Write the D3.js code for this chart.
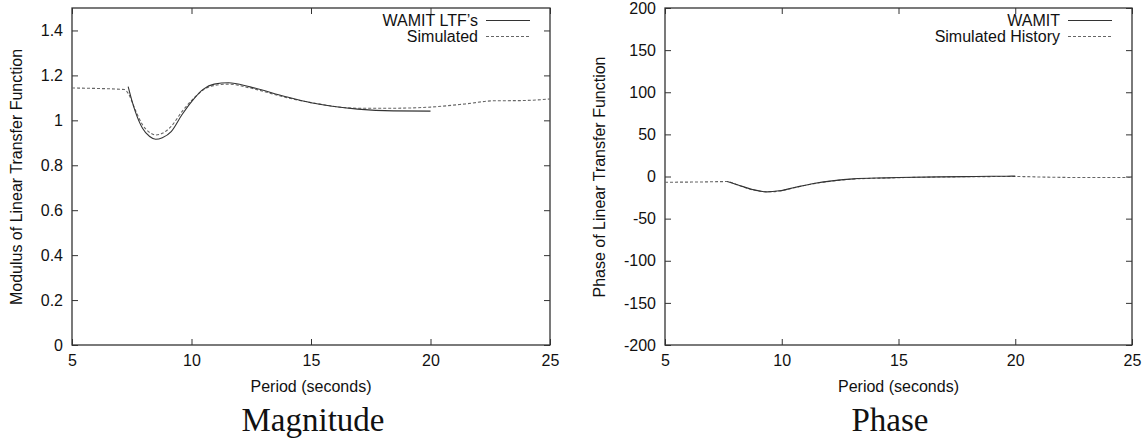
<!DOCTYPE html>
<html><head><meta charset="utf-8">
<script src="https://cdn.jsdelivr.net/npm/d3@7"></script>
<style>
body{margin:0;background:#fff;}
svg{display:block;}
text{font-family:"Liberation Sans",Arial,sans-serif;fill:#111;}
.title{font-family:"Liberation Serif","DejaVu Serif",serif;}
</style></head>
<body>
<svg id="c" width="1145" height="442"></svg>
<script>
// ---- Data ----
const periodTicks = [5, 10, 15, 20, 25];
const magTicks = [0, 0.2, 0.4, 0.6, 0.8, 1, 1.2, 1.4];
const phaseTicks = [-200, -150, -100, -50, 0, 50, 100, 150, 200];

// Magnitude: WAMIT LTF's (solid)
const magWamitT = [7.35, 7.5, 7.65, 7.95, 8.25, 8.5, 8.78, 9.15, 9.6, 10.03, 10.5, 10.95, 11.55, 12.45, 13.95, 15, 16.95, 18.45, 20];
const magWamitV = [1.15, 1.09, 1.039, 0.965, 0.928, 0.916, 0.923, 0.95, 1.025, 1.087, 1.139, 1.161, 1.167, 1.149, 1.105, 1.078, 1.05, 1.042, 1.041];
// Magnitude: Simulated (dashed)
const magSimT = [5, 6, 7.2, 7.35, 7.65, 7.95, 8.25, 8.5, 8.78, 9.15, 9.6, 10.03, 10.5, 10.95, 11.55, 12.45, 13.95, 15, 16.95, 18.45, 20, 21.45, 22.65, 23.85, 25];
const magSimV = [1.144, 1.142, 1.137, 1.12, 1.046, 0.98, 0.946, 0.935, 0.942, 0.973, 1.039, 1.091, 1.136, 1.155, 1.161, 1.144, 1.102, 1.079, 1.054, 1.054, 1.059, 1.073, 1.087, 1.088, 1.095];

// Phase: WAMIT (solid)
const phWamitT = [7.67, 8.13, 8.75, 9.37, 9.9, 10.6, 11.37, 12.15, 13.07, 14.46, 15, 16.75, 18.3, 19.85, 20];
const phWamitV = [-6, -10, -15.5, -18.3, -17, -12.7, -8.3, -5.2, -2.8, -1.6, -1.2, -0.4, 0, 0.4, 0.4];
// Phase: Simulated History (dashed)
const phSimT = [5, 6.5, 7.67, 8.13, 8.75, 9.37, 9.9, 10.6, 11.37, 12.15, 13.07, 14.46, 15, 16.75, 18.3, 20, 21.4, 22.9, 25];
const phSimV = [-6.8, -6.5, -6, -10.2, -15.8, -18.2, -17.2, -12.9, -8.5, -5.4, -3, -1.8, -1.4, -0.6, -0.2, 0, -0.8, -1.2, -1.2];

const svg = d3.select("#c");
const FS = "16px";
const hyph = d => String(d).replace("\u2212", "-");

function panel(cfg) {
  const g = svg.append("g");
  const x = d3.scaleLinear().domain([5, 25]).range([cfg.x0, cfg.x1]);
  const y = d3.scaleLinear().domain(cfg.ydom).range([345, 8]);
  const tl = 6;
  g.append("g").attr("transform", "translate(0,345)")
    .call(d3.axisBottom(x).tickValues(periodTicks).tickSize(-tl).tickPadding(10).tickFormat(d => String(d)))
    .call(a => a.select(".domain").remove());
  g.append("g").attr("transform", "translate(0,8)")
    .call(d3.axisTop(x).tickValues(periodTicks).tickSize(-tl).tickFormat(""))
    .call(a => a.select(".domain").remove());
  g.append("g").attr("transform", `translate(${cfg.x0},0)`)
    .call(d3.axisLeft(y).tickValues(cfg.yticks).tickSize(-tl).tickPadding(9).tickFormat(d => hyph(String(+d.toFixed(1)))))
    .call(a => a.select(".domain").remove());
  g.append("g").attr("transform", `translate(${cfg.x1},0)`)
    .call(d3.axisRight(y).tickValues(cfg.yticks).tickSize(-tl).tickFormat(""))
    .call(a => a.select(".domain").remove());
  g.selectAll(".tick line").attr("stroke", "#333");
  g.selectAll(".tick text").style("font-size", FS).attr("fill", "#111")
    .style("font-family", '"Liberation Sans",Arial,sans-serif');
  g.append("rect").attr("x", cfg.x0).attr("y", 8).attr("width", cfg.x1 - cfg.x0).attr("height", 337)
    .attr("fill", "none").attr("stroke", "#333").attr("stroke-width", 1.3);

  const line = d3.line().x(d => x(d[0])).y(d => y(d[1])).curve(d3.curveMonotoneX);
  g.append("path").datum(d3.zip(cfg.simT, cfg.simV)).attr("d", line)
    .attr("fill", "none").attr("stroke", "#666").attr("stroke-width", 1.1).attr("stroke-dasharray", "3,2");
  g.append("path").datum(d3.zip(cfg.wT, cfg.wV)).attr("d", line)
    .attr("fill", "none").attr("stroke", "#333").attr("stroke-width", 1.1);

  // legend
  const lx = cfg.x1 - 20;
  g.append("text").attr("x", lx - 52).attr("y", 26).attr("text-anchor", "end").style("font-size", FS).text(cfg.l1);
  g.append("line").attr("x1", lx - 44).attr("x2", lx).attr("y1", 20.5).attr("y2", 20.5).attr("stroke", "#333").attr("stroke-width", 1.1);
  g.append("text").attr("x", lx - 52).attr("y", 42).attr("text-anchor", "end").style("font-size", FS).text(cfg.l2);
  g.append("line").attr("x1", lx - 44).attr("x2", lx).attr("y1", 36.5).attr("y2", 36.5).attr("stroke", "#666").attr("stroke-width", 1.1).attr("stroke-dasharray", "3,2");

  // axis labels
  const cx = (cfg.x0 + cfg.x1) / 2;
  g.append("text").attr("x", cx).attr("y", 392).attr("text-anchor", "middle").style("font-size", FS).text("Period (seconds)");
  g.append("text").attr("transform", `translate(${cfg.yl},177) rotate(-90)`).attr("text-anchor", "middle")
    .style("font-size", FS).text(cfg.ylabel);
  g.append("text").attr("class", "title").attr("x", cfg.tx).attr("y", 431).attr("text-anchor", "middle")
    .style("font-size", "33px").text(cfg.title);
}

panel({x0: 72, x1: 550, ydom: [0, 1.5], yticks: magTicks,
  simT: magSimT, simV: magSimV, wT: magWamitT, wV: magWamitV,
  l1: "WAMIT LTF\u2019s", l2: "Simulated", ylabel: "Modulus of Linear Transfer Function", yl: 22, title: "Magnitude", tx: 313});
panel({x0: 665, x1: 1132, ydom: [-200, 200], yticks: phaseTicks,
  simT: phSimT, simV: phSimV, wT: phWamitT, wV: phWamitV,
  l1: "WAMIT", l2: "Simulated History", ylabel: "Phase of Linear Transfer Function", yl: 605, title: "Phase", tx: 890});
</script>
</body></html>
